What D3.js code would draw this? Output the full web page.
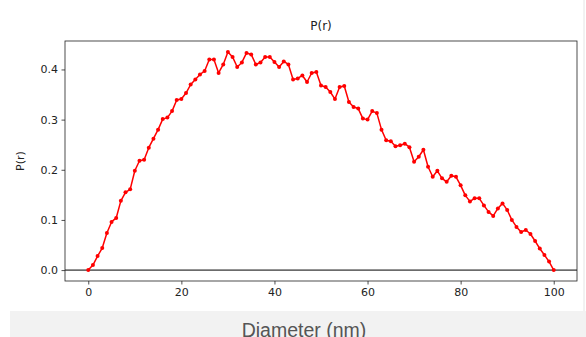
<!DOCTYPE html>
<html>
<head>
<meta charset="utf-8">
<script src="https://cdn.jsdelivr.net/npm/d3@7"></script>
<style>
  body { margin: 0; background: #fff; }
  svg { display: block; }
</style>
</head>
<body>
<svg id="canvas"></svg>
<script>
// P(r) values, one per nm of diameter (0..100)
const diameters = d3.range(0, 101)
const pr = [
  0, 0.01, 0.028, 0.044, 0.074, 0.096, 0.104, 0.138, 0.155, 0.161,
  0.198, 0.218, 0.22, 0.244, 0.262, 0.28, 0.301, 0.304, 0.317, 0.339,
  0.341, 0.353, 0.37, 0.38, 0.39, 0.397, 0.42, 0.42, 0.393, 0.41,
  0.435, 0.425, 0.405, 0.414, 0.433, 0.43, 0.41, 0.414, 0.425, 0.425,
  0.415, 0.405, 0.416, 0.41, 0.38, 0.382, 0.388, 0.375, 0.393, 0.395,
  0.368, 0.365, 0.355, 0.341, 0.365, 0.367, 0.335, 0.325, 0.322, 0.302,
  0.3, 0.317, 0.313, 0.28, 0.259, 0.257, 0.247, 0.249, 0.252, 0.245,
  0.216, 0.226, 0.24, 0.206, 0.186, 0.198, 0.183, 0.176, 0.188, 0.186,
  0.169, 0.149, 0.137, 0.143, 0.143, 0.129, 0.116, 0.108, 0.123, 0.133,
  0.12, 0.1, 0.086, 0.076, 0.08, 0.072, 0.058, 0.043, 0.03, 0.017,
  0
]
const xTicks = [0, 20, 40, 60, 80, 100]
const yTicks = [0, 0.1, 0.2, 0.3, 0.4]

const w = 586
const h = 337
const margin = {top: 41, right: 9, bottom: 56, left: 65}
const font = 'DejaVu Sans, sans-serif'

const canvas = d3.select('#canvas').attr('width', w).attr('height', h)

const points = diameters.map((d, i) => ({x: d, y: pr[i]}))

// matplotlib-style 5% margins around the data
const xPad = (d3.max(diameters) - d3.min(diameters)) * 0.05
const yPad = (d3.max(pr) - d3.min(pr)) * 0.05
const xScale = d3.scaleLinear()
                 .domain([d3.min(diameters) - xPad, d3.max(diameters) + xPad])
                 .range([margin.left, w - margin.right])
const yScale = d3.scaleLinear()
                 .domain([d3.min(pr) - yPad, d3.max(pr) + yPad])
                 .range([h - margin.bottom, margin.top])

// grey band under the figure with the axis caption
canvas.append('rect')
      .attr('x', 10).attr('y', 311)
      .attr('width', w - 10).attr('height', h - 311)
      .attr('fill', '#f2f2f2')
canvas.append('line')
      .attr('x1', 584).attr('x2', 584)
      .attr('y1', 0).attr('y2', 311)
      .attr('stroke', '#e4e4e4')
canvas.append('text')
      .attr('x', 304).attr('y', 336.5)
      .attr('text-anchor', 'middle')
      .attr('font-family', 'Liberation Sans, Arial, sans-serif')
      .attr('font-size', 19.5)
      .attr('fill', '#555')
      .text('Diameter (nm)')

const xAxis = d3.axisBottom(xScale).tickValues(xTicks).tickSizeOuter(0).tickSize(3.5).tickPadding(3.5)
const yAxis = d3.axisLeft(yScale).tickValues(yTicks).tickFormat(d3.format('.1f')).tickSizeOuter(0).tickSize(3.5).tickPadding(3.5)

const gx = canvas.append('g')
                 .attr('transform', 'translate(0,' + (h - margin.bottom) + ')')
                 .call(xAxis)
const gy = canvas.append('g')
                 .attr('transform', 'translate(' + margin.left + ',0)')
                 .call(yAxis)
;[gx, gy].forEach(g => {
  g.select('.domain').remove()
  g.selectAll('text').attr('font-family', font).attr('font-size', 11).attr('fill', '#222')
  g.selectAll('line').attr('stroke', '#222').attr('stroke-width', 0.8)
})

// zero line
canvas.append('line')
      .attr('x1', margin.left).attr('x2', w - margin.right)
      .attr('y1', yScale(0)).attr('y2', yScale(0))
      .attr('stroke', '#000').attr('stroke-width', 1)

const line = d3.line().x(d => xScale(d.x)).y(d => yScale(d.y))
canvas.append('path')
      .datum(points)
      .attr('d', line)
      .attr('fill', 'none')
      .attr('stroke', '#ff0000')
      .attr('stroke-width', 1.5)
      .attr('stroke-linejoin', 'round')

canvas.selectAll('circle')
      .data(points)
      .enter()
      .append('circle')
      .attr('cx', d => xScale(d.x))
      .attr('cy', d => yScale(d.y))
      .attr('r', 2)
      .attr('fill', '#ff0000')

// axes frame
canvas.append('rect')
      .attr('x', margin.left).attr('y', margin.top)
      .attr('width', w - margin.left - margin.right)
      .attr('height', h - margin.top - margin.bottom)
      .attr('fill', 'none')
      .attr('stroke', '#222').attr('stroke-width', 0.8)

canvas.append('text')
      .attr('x', (margin.left + w - margin.right) / 2).attr('y', 30)
      .attr('text-anchor', 'middle')
      .attr('font-family', font).attr('font-size', 12).attr('fill', '#222')
      .text('P(r)')

canvas.append('text')
      .attr('transform', 'translate(24,' + ((margin.top + h - margin.bottom) / 2) + ') rotate(-90)')
      .attr('text-anchor', 'middle')
      .attr('font-family', font).attr('font-size', 11).attr('fill', '#222')
      .text('P(r)')
</script>
</body>
</html>
